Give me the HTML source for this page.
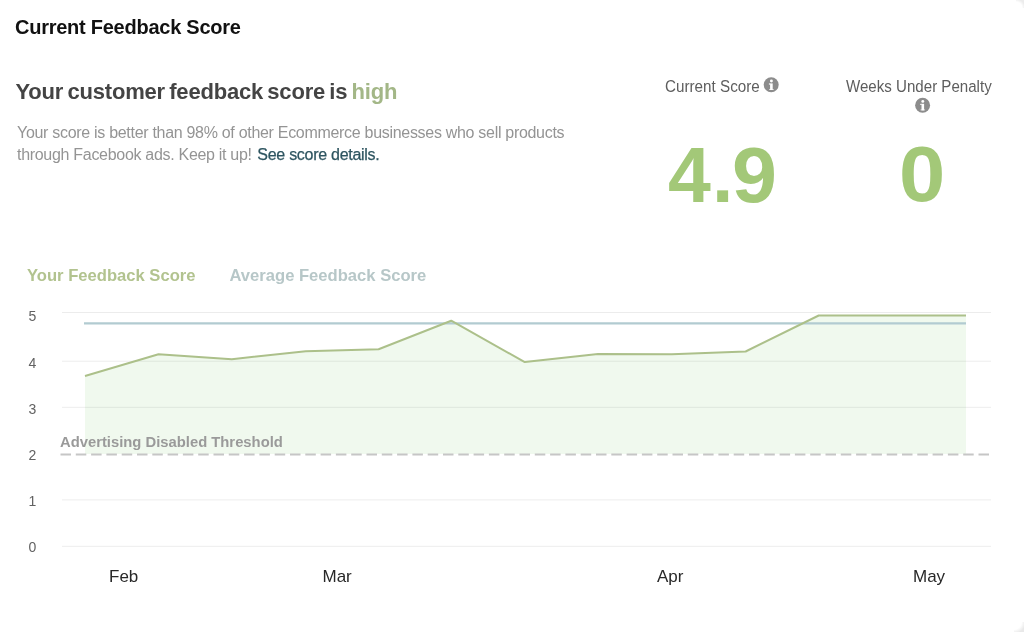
<!DOCTYPE html>
<html>
<head>
<meta charset="utf-8">
<style>
html,body{margin:0;padding:0;background:#fff;}
body{will-change:transform;width:1024px;height:632px;position:relative;overflow:hidden;font-family:"Liberation Sans",Arial,sans-serif;}
.a{position:absolute;white-space:nowrap;line-height:1;}
#title{left:15px;top:17.2px;font-size:20px;letter-spacing:-0.25px;font-weight:bold;color:#111;}
#head{left:15.5px;top:80.5px;font-size:22px;letter-spacing:-0.2px;word-spacing:-1.6px;font-weight:bold;color:#444;}
#head span{color:#a3b787;}
#para{left:17px;top:122px;font-size:16px;color:#949494;line-height:22px;letter-spacing:-0.3px;}
#para a{color:#2e5560;text-decoration:none;letter-spacing:-0.28px;margin-left:1.5px;-webkit-text-stroke:0.25px #2e5560;}
#cs{left:664.5px;top:77.6px;font-size:16.3px;transform:scaleX(0.935);transform-origin:0 0;color:#5e5e5e;}
#wup{left:845.5px;top:77.6px;font-size:16.3px;transform:scaleX(0.927);transform-origin:0 0;color:#5e5e5e;}
.big{font-size:77px;font-weight:bold;color:#a3c878;transform-origin:0 0;}
#n1a{left:668px;top:137px;}
#n1b{left:712px;top:137px;}
#n1c{left:732px;top:137px;transform:scaleX(1.05);}
#n2{left:898.5px;top:135.6px;transform:scaleX(1.08);}
svg{position:absolute;left:0;top:0;}
</style>
</head>
<body>
<div class="a" id="title">Current Feedback Score</div>
<div class="a" id="head">Your customer feedback score is <span>high</span></div>
<div class="a" id="para">Your score is better than 98% of other Ecommerce businesses who sell products<br>through Facebook ads. Keep it up! <a>See score details.</a></div>
<div class="a" id="cs">Current Score</div>
<div class="a" id="wup">Weeks Under Penalty</div>
<div class="a big" id="n1a">4</div>
<div class="a big" id="n1b">.</div>
<div class="a big" id="n1c">9</div>
<div class="a big" id="n2">0</div>
<svg width="1024" height="632" viewBox="0 0 1024 632">
  <!-- info icons -->
  <g>
    <circle cx="771.2" cy="84.8" r="7.5" fill="#8c8c8c"/>
    <circle cx="771.4000000000001" cy="81.0" r="1.45" fill="#fff"/>
    <rect x="770.1" y="83.4" width="2.6" height="6.6" fill="#fff"/>
    <rect x="768.9" y="83.4" width="1.4" height="1.2" fill="#fff"/>
    <rect x="769.1" y="89.0" width="4.6" height="1.0" fill="#fff" opacity="0.7"/>
  </g>
  <g>
    <circle cx="922.6" cy="105.2" r="7.5" fill="#8c8c8c"/>
    <circle cx="922.8000000000001" cy="101.4" r="1.45" fill="#fff"/>
    <rect x="921.5" y="103.8" width="2.6" height="6.6" fill="#fff"/>
    <rect x="920.3" y="103.8" width="1.4" height="1.2" fill="#fff"/>
    <rect x="920.5" y="109.4" width="4.6" height="1.0" fill="#fff" opacity="0.7"/>
  </g>
  <!-- legend -->
  <text x="27" y="280.5" font-family="Liberation Sans" font-weight="bold" font-size="16.6" fill="#b2c38f">Your Feedback Score</text>
  <text x="229.5" y="280.5" font-family="Liberation Sans" font-weight="bold" font-size="16.6" fill="#b7c7c8">Average Feedback Score</text>
  <!-- fill -->
  <polygon fill="#f0f9ee" points="85,376 158.5,354.3 231.8,359.2 305.8,351.3 378.6,349.2 451.2,320.7 524.8,362.1 598,354 671.8,354.2 745.6,351.5 818.7,315.5 892,315.5 966,315.5 966,454 85,454"/>
  <!-- grid -->
  <g stroke="#000" stroke-opacity="0.075" stroke-width="1">
    <line x1="62" y1="312.5" x2="991" y2="312.5"/>
    <line x1="62" y1="361.2" x2="991" y2="361.2"/>
    <line x1="62" y1="407.3" x2="991" y2="407.3"/>
    <line x1="62" y1="499.9" x2="991" y2="499.9"/>
    <line x1="62" y1="546.3" x2="991" y2="546.3"/>
  </g>
  <!-- avg line -->
  <line x1="84" y1="323.4" x2="966" y2="323.4" stroke="#b2cbd1" stroke-width="2.2"/>
  <!-- score line -->
  <polyline fill="none" stroke="#acc08a" stroke-width="2" stroke-linejoin="round" points="85,376 158.5,354.3 231.8,359.2 305.8,351.3 378.6,349.2 451.2,320.7 524.8,362.1 598,354 671.8,354.2 745.6,351.5 818.7,315.5 892,315.5 966,315.5"/>
  <!-- threshold -->
  <line x1="60.5" y1="454.5" x2="991" y2="454.5" stroke="#c6c6c6" stroke-width="2.2" stroke-dasharray="10.5 4.8"/>
  <text x="60" y="447.3" font-family="Liberation Sans" font-weight="bold" font-size="14.8" fill="#9a9a9a">Advertising Disabled Threshold</text>
  <!-- y labels -->
  <g font-family="Liberation Sans" font-size="14" fill="#626262">
    <text x="28.5" y="321">5</text>
    <text x="28.5" y="367.5">4</text>
    <text x="28.5" y="413.5">3</text>
    <text x="28.5" y="460">2</text>
    <text x="28.5" y="506.2">1</text>
    <text x="28.5" y="551.8">0</text>
  </g>
  <!-- x labels -->
  <g font-family="Liberation Sans" font-size="17" fill="#282828">
    <text x="109" y="581.8">Feb</text>
    <text x="322.5" y="581.8">Mar</text>
    <text x="657" y="581.8">Apr</text>
    <text x="913" y="581.8">May</text>
  </g>
</svg>
<div style="position:absolute;right:0;bottom:0;width:10px;height:10px;background:radial-gradient(circle at 0 0,rgba(233,233,233,0) 7.5px,#e9e9e9 11.5px);"></div>
<div style="position:absolute;right:0;top:0;width:8px;height:8px;background:radial-gradient(circle at 0 100%,rgba(236,236,236,0) 6px,#ececec 9px);"></div>
</body>
</html>
